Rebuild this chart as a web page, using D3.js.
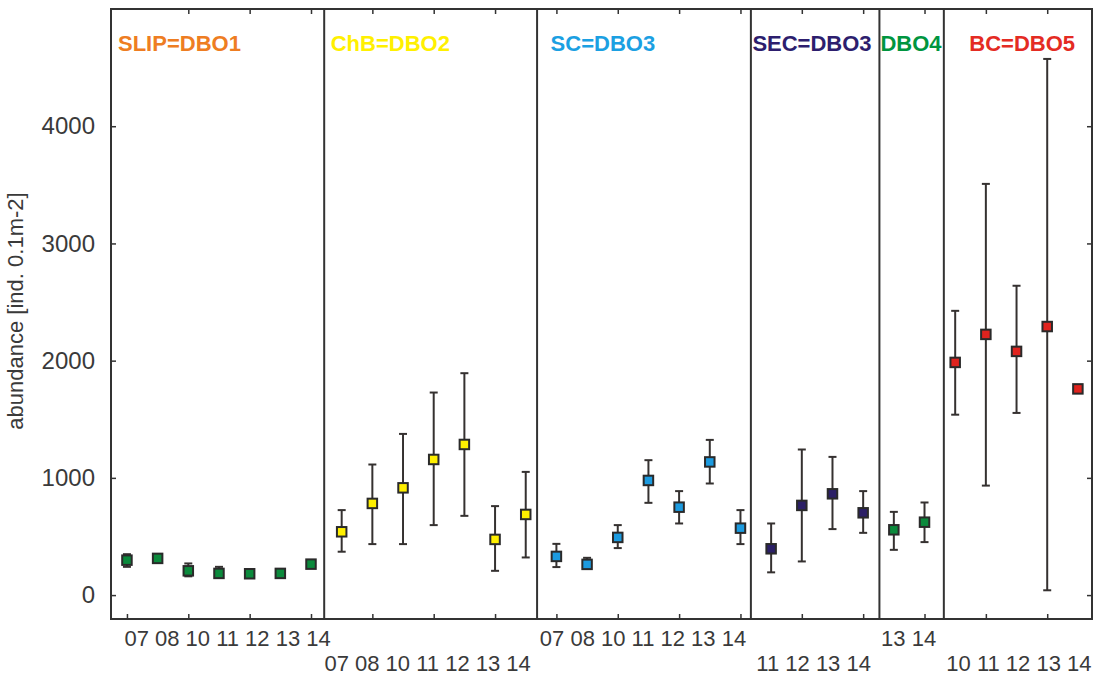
<!DOCTYPE html>
<html>
<head>
<meta charset="utf-8">
<script src="https://cdn.jsdelivr.net/npm/d3@7"></script>
<style>
  html, body { margin: 0; padding: 0; background: #ffffff; }
  svg { display: block; }
</style>
</head>
<body>
<svg id="chart" width="1095" height="675"></svg>
<script>
// ---------------- DATA ----------------
const panelNames = ["SLIP=DBO1", "ChB=DBO2", "SC=DBO3", "SEC=DBO3", "DBO4", "BC=DBO5"];
const panelYears = [
  ["07", "08", "10", "11", "12", "13", "14"],
  ["07", "08", "10", "11", "12", "13", "14"],
  ["07", "08", "10", "11", "12", "13", "14"],
  ["11", "12", "13", "14"],
  ["13", "14"],
  ["10", "11", "12", "13", "14"]
];
const panelColors = ["#ee7d22", "#fff000", "#1ba0e2", "#2d1e6e", "#00953f", "#e42b23"];
const markerColors = ["#0b8a3c", "#fff000", "#1c9be0", "#2b1f66", "#0b8a3c", "#e0231e"];

// abundance means and error-bar limits (ind. 0.1m-2); null = no error bar
const slipMean = [298, 313, 207, 185, 182, 185, 264];
const slipLow  = [241, null, 160, 150, null, null, null];
const slipHigh = [349, null, 270, 241, null, null, null];

const chbMean = [540, 782, 915, 1157, 1285, 475, 688];
const chbLow  = [370, 435, 435, 597, 676, 207, 321];
const chbHigh = [725, 1114, 1375, 1728, 1893, 759, 1051];

const scMean = [330, 262, 492, 978, 750, 1136, 571];
const scLow  = [239, 240, 401, 787, 611, 952, 435];
const scHigh = [437, 318, 597, 1151, 887, 1324, 725];

const secMean = [395, 765, 864, 702];
const secLow  = [194, 287, 563, 531];
const secHigh = [611, 1242, 1179, 887];

const dbo4Mean = [557, 622];
const dbo4Low  = [386, 452];
const dbo4High = [710, 790];

const bcMean = [1985, 2224, 2079, 2291, 1759];
const bcLow  = [1539, 934, 1554, 41, null];
const bcHigh = [2425, 3508, 2639, 4574, null];

const yTicks = [0, 1000, 2000, 3000, 4000];
const yLabel = "abundance [ind. 0.1m-2]";

// ---------------- LAYOUT ----------------
const means = [slipMean, chbMean, scMean, secMean, dbo4Mean, bcMean];
const lows  = [slipLow, chbLow, scLow, secLow, dbo4Low, bcLow];
const highs = [slipHigh, chbHigh, scHigh, secHigh, dbo4High, bcHigh];

const svg = d3.select("#chart");
const L = 111, R = 1092, T = 9, B = 619;

// points placed on a continuous slot index across all panels
const points = [];
let idx = 0;
const panelStart = [];
means.forEach((arr, p) => {
  panelStart.push(idx);
  arr.forEach((v, i) => {
    points.push({ panel: p, i: i, slot: idx, mean: v, low: lows[p][i], high: highs[p][i] });
    idx++;
  });
});
const nSlots = idx;

const x = d3.scaleLinear().domain([-0.52, nSlots - 1 + 0.46]).range([L, R]);
const y = d3.scaleLinear().domain([-204, 5000]).range([B, T]);

// panel boundaries in slot units (midway-ish between neighbouring groups)
const boundaryShift = [0.43, 0.37, 0.34, 0.53, 0.63];
const bounds = [x.domain()[0]];
panelStart.slice(1).forEach((s, k) => bounds.push(s - 1 + boundaryShift[k]));
bounds.push(x.domain()[1]);

const axisColor = "#333";

// ticks: left / right (y), bottom / top (x)
const evenSlots = d3.range(0, nSlots, 2);
function styleAxis(g) {
  g.select(".domain").remove();
  g.selectAll(".tick line").attr("stroke", axisColor).attr("stroke-width", 1.5);
}
svg.append("g").attr("transform", `translate(${L},0)`)
  .call(d3.axisLeft(y).tickValues(yTicks).tickSize(-5).tickPadding(16).tickFormat(d3.format("d")))
  .call(styleAxis)
  .call(g => g.selectAll(".tick text")
    .attr("font-family", "'Liberation Sans', Arial, sans-serif")
    .attr("font-size", 24).attr("fill", "#3a3a3a"));
svg.append("g").attr("transform", `translate(${R},0)`)
  .call(d3.axisRight(y).tickValues(yTicks).tickSize(-5).tickFormat(""))
  .call(styleAxis);
svg.append("g").attr("transform", `translate(0,${B})`)
  .call(d3.axisBottom(x).tickValues(evenSlots).tickSize(-5).tickFormat(""))
  .call(styleAxis);
svg.append("g").attr("transform", `translate(0,${T})`)
  .call(d3.axisTop(x).tickValues(evenSlots.slice(1)).tickSize(-5).tickFormat(""))
  .call(styleAxis);

// frame and dividers
svg.append("rect").attr("x", L).attr("y", T).attr("width", R - L).attr("height", B - T)
  .attr("fill", "none").attr("stroke", axisColor).attr("stroke-width", 2);
svg.append("g").selectAll("line").data(bounds.slice(1, -1)).join("line")
  .attr("x1", d => x(d)).attr("x2", d => x(d))
  .attr("y1", T).attr("y2", B)
  .attr("stroke", axisColor).attr("stroke-width", 2);

// panel titles
const titleOffset = [7, 6.5, 13.5, 1.5, 1, 25.5];
svg.append("g").selectAll("text").data(panelNames).join("text")
  .attr("x", (d, p) => x(bounds[p]) + titleOffset[p])
  .attr("y", 51)
  .attr("font-family", "'Liberation Sans', Arial, sans-serif")
  .attr("font-weight", "bold")
  .attr("font-size", 22)
  .attr("fill", (d, p) => panelColors[p])
  .text(d => d);

// year labels under panels, alternating rows
const labelShift = [10, -3, -1, -1.5, -3, 1];
svg.append("g").selectAll("text").data(panelYears).join("text")
  .attr("x", (d, p) => (x(bounds[p]) + x(bounds[p + 1])) / 2 + labelShift[p])
  .attr("y", (d, p) => p % 2 === 0 ? 646 : 671)
  .attr("text-anchor", "middle")
  .attr("font-family", "'Liberation Sans', Arial, sans-serif")
  .attr("font-size", 22)
  .attr("fill", "#3a3a3a")
  .text(d => d.join(" "));

// y axis label
svg.append("text")
  .attr("transform", `translate(23,311) rotate(-90)`)
  .attr("text-anchor", "middle")
  .attr("font-family", "'Liberation Sans', Arial, sans-serif")
  .attr("font-size", 22)
  .attr("fill", "#3a3a3a")
  .text(yLabel);

// error bars
const eb = points.filter(d => d.low != null && d.high != null);
const ebG = svg.append("g").attr("stroke", "#353130").attr("stroke-width", 2);
ebG.selectAll("line.v").data(eb).join("line").attr("class", "v")
  .attr("x1", d => x(d.slot)).attr("x2", d => x(d.slot))
  .attr("y1", d => y(d.high)).attr("y2", d => y(d.low));
ebG.selectAll("line.ct").data(eb).join("line").attr("class", "ct")
  .attr("x1", d => x(d.slot) - 4).attr("x2", d => x(d.slot) + 4)
  .attr("y1", d => y(d.high)).attr("y2", d => y(d.high));
ebG.selectAll("line.cb").data(eb).join("line").attr("class", "cb")
  .attr("x1", d => x(d.slot) - 4).attr("x2", d => x(d.slot) + 4)
  .attr("y1", d => y(d.low)).attr("y2", d => y(d.low));

// markers
const ms = 9.5;
svg.append("g").selectAll("rect").data(points).join("rect")
  .attr("x", d => x(d.slot) - ms / 2)
  .attr("y", d => y(d.mean) - ms / 2)
  .attr("width", ms).attr("height", ms)
  .attr("fill", d => markerColors[d.panel])
  .attr("stroke", "#2a2a2a").attr("stroke-width", 2);
</script>
</body>
</html>
